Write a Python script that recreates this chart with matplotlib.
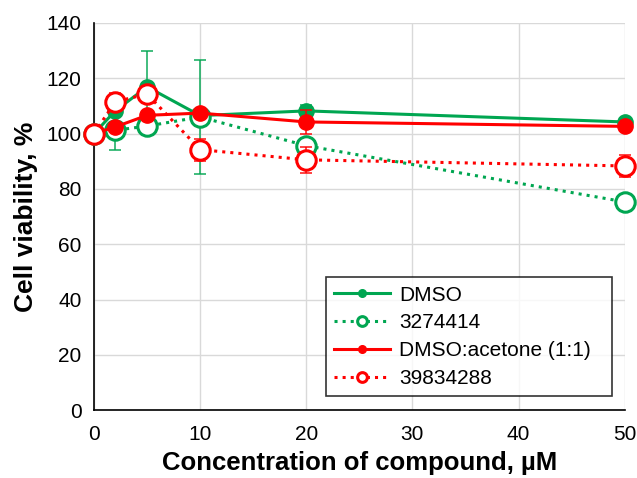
import numpy as np
import matplotlib
matplotlib.use("Agg")
import matplotlib.pyplot as plt

plt.rcParams['font.family'] = ['Liberation Sans', 'DejaVu Sans']

conc = [0, 2, 5, 10, 20, 50]

dmso = [100, 108.2, 116.9, 106.5, 108.2, 104.2]
dmso_err = [0, 0, 13, 0, 2, 0]

cmp1 = [100, 101.2, 102.7, 106.0, 95.6, 75.3]
cmp1_err = [0, 7, 0, 20.5, 0, 0]

dmso_ac = [100, 102.4, 106.6, 107.4, 104.2, 102.6]
dmso_ac_err = [0, 0, 0, 0, 4.4, 0]

cmp2 = [100, 111.5, 114.3, 94.2, 90.5, 88.3]
cmp2_err = [0, 3, 3, 4, 4.7, 4]

GREEN = "#00a651"
RED = "#ff0000"


def draw(ax, y, err, color, ls, filled, label, z):
    x = np.array(conc)
    y = np.array(y)
    err = np.array(err)
    m = err > 0
    ax.errorbar(x[m], y[m], yerr=err[m], fmt="none", ecolor=color,
                elinewidth=1.3, capsize=4, capthick=1.3, zorder=z, alpha=0.8)
    if filled:
        ax.plot(x, y, ls=ls, color=color, lw=2.2, marker="o", ms=11,
                mfc=color, mec=color, label=label, zorder=z + 0.5)
    else:
        ax.plot(x, y, ls=ls, color=color, lw=2.2, marker="o", ms=14,
                mfc="white", mec=color, mew=2.2, label=label, zorder=z + 0.5)


fig = plt.figure(figsize=(6.37, 4.78), dpi=100)
ax = fig.add_axes([0.1476, 0.142, 0.833, 0.81])

draw(ax, dmso, dmso_err, GREEN, "-", True, "DMSO", 3)
draw(ax, cmp1, cmp1_err, GREEN, ":", False, "3274414", 4)
draw(ax, dmso_ac, dmso_ac_err, RED, "-", True, "DMSO:acetone (1:1)", 5)
draw(ax, cmp2, cmp2_err, RED, ":", False, "39834288", 6)

ax.set_xlim(0, 50)
ax.set_ylim(0, 140)
ax.set_xticks(range(0, 51, 10))
ax.set_yticks(range(0, 141, 20))
ax.grid(True, color="#d9d9d9", lw=1)
ax.set_axisbelow(True)
for s in ["top", "right"]:
    ax.spines[s].set_visible(False)
for s in ["left", "bottom"]:
    ax.spines[s].set_color("black")
    ax.spines[s].set_linewidth(1.2)
ax.tick_params(axis="y", length=0, labelsize=15, pad=9)
ax.tick_params(axis="x", length=0, labelsize=15, pad=11)
for c in ax.get_children():
    if hasattr(c, "set_clip_on"):
        c.set_clip_on(False)

ax.set_xlabel("Concentration of compound, µM", fontsize=18.5,
              fontweight="bold", labelpad=5)
ax.set_ylabel("Cell viability, %", fontsize=19, fontweight="bold", labelpad=6)

leg = ax.legend(loc="lower left", bbox_to_anchor=(0.437, 0.036, 0.539, 0.313),
                mode="expand", borderaxespad=0, fontsize=15, frameon=True,
                fancybox=False, edgecolor="black", handlelength=2.7,
                markerscale=0.5, borderpad=0.4, labelspacing=0.42,
                handletextpad=0.4)
leg.get_frame().set_linewidth(1.2)
leg.set_zorder(10)

fig.savefig("out.png", dpi=100)
